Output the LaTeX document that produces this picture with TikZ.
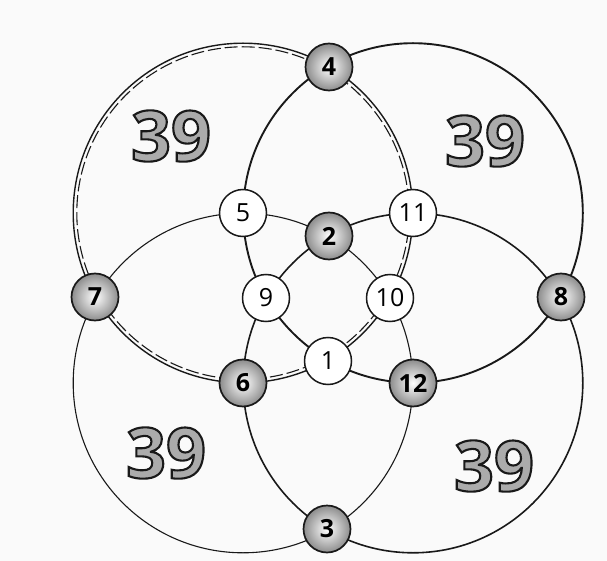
\documentclass[tikz,border=0pt]{standalone}
\usepackage{fontspec}
\setmainfont{Open Sans}
\newfontfamily\outlinefont[FakeBold=3,BoldFeatures={FakeBold=3}]{Open Sans}
\definecolor{bgcol}{RGB}{250,250,250}
\definecolor{inkcol}{RGB}{25,25,25}
\newcommand{\outlinedsum}[1]{\special{pdf:bcolor [0.67] [0.1]}\outlinefont\bfseries #1\special{pdf:ecolor}}
\begin{document}
\begin{tikzpicture}[x=1pt,y=-1pt,
  ringA/.style={draw=inkcol,line width=1.4pt},
  ringAdash/.style={draw=inkcol,line width=1.1pt,dash pattern=on 13pt off 4pt},
  ringB/.style={draw=inkcol,line width=1.9pt},
  ringC/.style={draw=inkcol,line width=1.1pt},
  ringD/.style={draw=inkcol,line width=1.6pt},
  grnode/.style={circle,draw=inkcol,line width=1.7pt,minimum size=47pt,inner sep=0pt,
    shading=radial,inner color=white,outer color=black!45,
    font=\fontsize{25}{25}\selectfont\bfseries},
  whnode/.style={circle,draw=inkcol,line width=1.5pt,minimum size=47pt,inner sep=0pt,
    fill=white,font=\fontsize{25}{25}\selectfont},
  bigtxt/.style={inner sep=0pt,font=\fontsize{70}{70}\selectfont}
]
\fill[bgcol] (0,0) rectangle (607,561);
\useasboundingbox (0,0) rectangle (607,561);

% circle centres
\coordinate (cA) at (243,213);
\coordinate (cB) at (413,213);
\coordinate (cC) at (243,383);
\coordinate (cD) at (413,383);

% the four large circles
\draw[ringC] (cC) circle[radius=169.8];
\draw[ringD] (cD) circle[radius=169.8];
\draw[ringB] (cB) circle[radius=169.8];
\draw[ringA] (cA) circle[radius=169.8];
\draw[ringAdash] (cA) circle[radius=166.2];

% the sums
\node[bigtxt] (stl) at (171,136) {\outlinedsum{39}};
\node[bigtxt] (str) at (485,141) {\outlinedsum{39}};
\node[bigtxt] (sbl) at (166,453) {\outlinedsum{39}};
\node[bigtxt] (sbr) at (494,466) {\outlinedsum{39}};

% number nodes
\node[grnode] (n4) at (329,67) {4};
\node[grnode] (n3) at (327,529) {3};
\node[grnode] (n7) at (95,297) {7};
\node[grnode] (n8) at (561,297) {8};
\node[grnode] (n2) at (329,236) {2};
\node[grnode] (n6) at (243,383) {6};
\node[grnode] (n12) at (413,383) {12};
\node[whnode] (n5) at (243,213) {5};
\node[whnode] (n11) at (413,213) {11};
\node[whnode] (n9) at (266,298) {9};
\node[whnode] (n10) at (390,298) {10};
\node[whnode] (n1) at (328,361) {1};
\end{tikzpicture}
\end{document}
